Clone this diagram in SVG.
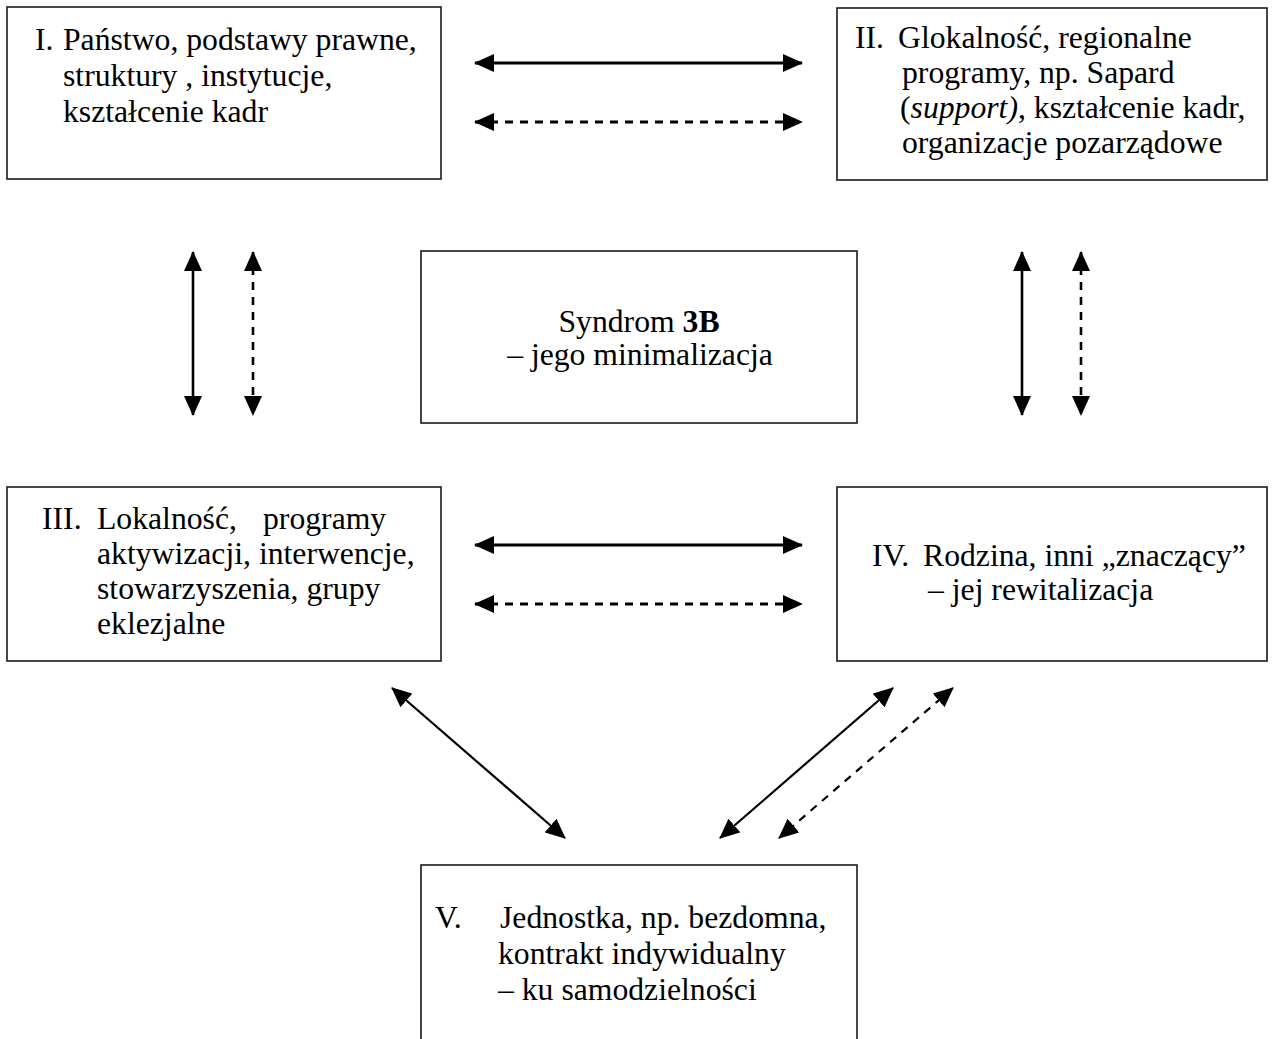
<svg xmlns="http://www.w3.org/2000/svg" width="1273" height="1039" viewBox="0 0 1273 1039">
<defs>
<style>
.box{fill:#fff;stroke:#1a1a1a;stroke-width:1.6}
.t{font-family:"Liberation Serif","Times New Roman",serif;font-size:31.7px;fill:#000}
.c{stroke:#000;fill:none}
.h{stroke-width:3}
.v{stroke-width:2.6}
.d{stroke-width:2.2}
.dash{stroke-dasharray:8 7}
</style>
<marker id="ah" markerUnits="userSpaceOnUse" markerWidth="20" markerHeight="20" refX="19" refY="9" orient="auto-start-reverse" viewBox="0 0 20 18">
<path d="M0,0 L20,9 L0,18 Z" fill="#000"/>
</marker>
</defs>
<rect width="1273" height="1039" fill="#fff"/>

<g id="node-I">
<rect class="box" x="7" y="7" width="434" height="172"/>
<text class="t" x="35" y="50">I.</text>
<text class="t" x="63" y="50">Państwo, podstawy prawne,</text>
<text class="t" x="63" y="86">struktury , instytucje,</text>
<text class="t" x="63" y="122">kształcenie kadr</text>
</g>

<g id="node-II">
<rect class="box" x="837" y="8" width="430" height="172"/>
<text class="t" x="855" y="48">II.</text>
<text class="t" x="898" y="48">Glokalność, regionalne</text>
<text class="t" x="902" y="83">programy, np. Sapard</text>
<text class="t" x="900" y="118">(<tspan font-style="italic">support)</tspan>, kształcenie kadr,</text>
<text class="t" x="902" y="153">organizacje pozarządowe</text>
</g>

<g id="node-center">
<rect class="box" x="421" y="251" width="436" height="172"/>
<text class="t" x="639" y="332" text-anchor="middle">Syndrom <tspan font-weight="bold">3B</tspan></text>
<text class="t" x="640" y="365" text-anchor="middle">– jego minimalizacja</text>
</g>

<g id="node-III">
<rect class="box" x="7" y="487" width="434" height="174"/>
<text class="t" x="42" y="529">III.</text>
<text class="t" x="97" y="529">Lokalność, <tspan x="263">programy</tspan></text>
<text class="t" x="97" y="564">aktywizacji, interwencje,</text>
<text class="t" x="97" y="599">stowarzyszenia, grupy</text>
<text class="t" x="97" y="634">eklezjalne</text>
</g>

<g id="node-IV">
<rect class="box" x="837" y="487" width="430" height="174"/>
<text class="t" x="872" y="566">IV.</text>
<text class="t" x="923" y="566">Rodzina, inni „znaczący”</text>
<text class="t" x="928" y="600">– jej rewitalizacja</text>
</g>

<g id="node-V">
<rect class="box" x="421" y="865" width="436" height="185"/>
<text class="t" x="435" y="928">V.</text>
<text class="t" x="500" y="928">Jednostka, np. bezdomna,</text>
<text class="t" x="498" y="964">kontrakt indywidualny</text>
<text class="t" x="498" y="1000">– ku samodzielności</text>
</g>

<g id="connectors">
<line class="c h" x1="475" y1="63" x2="802" y2="63" marker-start="url(#ah)" marker-end="url(#ah)"/>
<line class="c h dash" x1="475" y1="122" x2="802" y2="122" marker-start="url(#ah)" marker-end="url(#ah)"/>
<line class="c h" x1="475" y1="545" x2="802" y2="545" marker-start="url(#ah)" marker-end="url(#ah)"/>
<line class="c h dash" x1="475" y1="604" x2="802" y2="604" marker-start="url(#ah)" marker-end="url(#ah)"/>
<line class="c v" x1="193" y1="252" x2="193" y2="415" marker-start="url(#ah)" marker-end="url(#ah)"/>
<line class="c v dash" x1="253" y1="252" x2="253" y2="415" marker-start="url(#ah)" marker-end="url(#ah)"/>
<line class="c v" x1="1022" y1="252" x2="1022" y2="415" marker-start="url(#ah)" marker-end="url(#ah)"/>
<line class="c v dash" x1="1081" y1="252" x2="1081" y2="415" marker-start="url(#ah)" marker-end="url(#ah)"/>
<line class="c d" x1="392" y1="688" x2="565" y2="838" marker-start="url(#ah)" marker-end="url(#ah)"/>
<line class="c d" x1="893" y1="688" x2="720" y2="838" marker-start="url(#ah)" marker-end="url(#ah)"/>
<line class="c d dash" x1="953" y1="688" x2="779" y2="838" marker-start="url(#ah)" marker-end="url(#ah)"/>
</g>
</svg>
